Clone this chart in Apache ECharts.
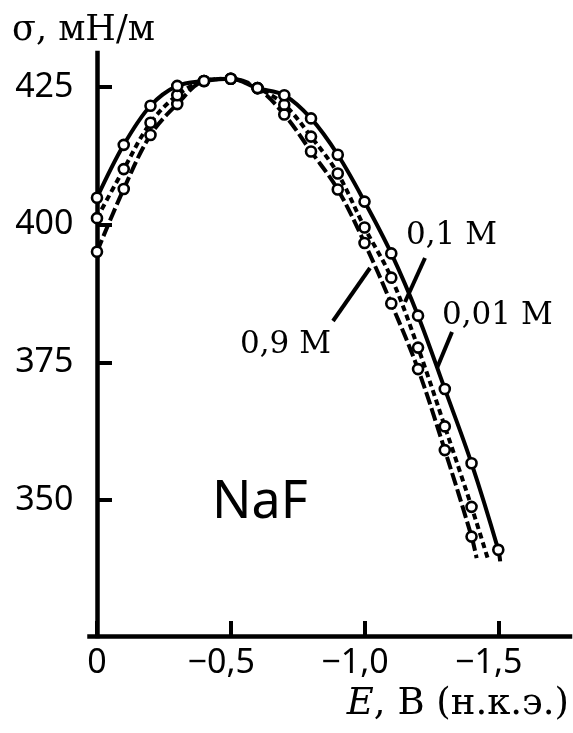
<!DOCTYPE html>
<html>
<head>
<meta charset="utf-8">
<script src="https://cdn.jsdelivr.net/npm/echarts@6/dist/echarts.min.js"></script>
<style>
  html, body { margin: 0; padding: 0; background: #fff; }
  #chart { width: 573px; height: 733px; }
</style>
</head>
<body>
<div id="chart"></div>
<script>
// Electrode potential, V (vs. normal calomel electrode)
const potentials = [0, -0.1, -0.2, -0.3, -0.4, -0.5, -0.6, -0.7, -0.8, -0.9, -1.0, -1.1, -1.2, -1.3, -1.4, -1.5];

// Interfacial tension, mN/m, for three NaF concentrations
const sigma001 = [404.9, 414.5, 421.6, 425.2, 426.1, 426.5, 424.8, 423.5, 419.3, 412.7, 404.2, 394.8, 383.5, 370.2, 356.7, 341.0];
const sigma01  = [401.2, 410.1, 418.5, 423.5, 426.1, 426.5, 424.8, 421.8, 416.0, 409.3, 399.5, 390.4, 377.7, 363.4, 348.8];
const sigma09  = [395.1, 406.5, 416.3, 421.9, 426.1, 426.5, 424.8, 420.0, 413.3, 406.4, 396.7, 385.7, 373.8, 359.1, 343.4];

// Where each fitted curve runs on past its last measured point [E, sigma]
const tail001 = [-1.507, 338.9];
const tail01  = [-1.462, 339.2];
const tail09  = [-1.419, 339.5];

const xTicks = [0, -0.5, -1.0, -1.5];
const yTicks = [350, 375, 400, 425];

const seriesLabels = ['0,01 М', '0,1 М', '0,9 М'];

function buildData(values, tail) {
  const pts = values.map((s, i) => [potentials[i], s]);
  pts.push({ value: tail, symbol: 'none' });
  return pts;
}

function curve(name, values, tail, dash) {
  return {
    name: name,
    type: 'line',
    smooth: 0.35,
    data: buildData(values, tail),
    symbol: 'circle',
    symbolSize: 10,
    itemStyle: { color: '#fff', borderColor: '#000', borderWidth: 2.6 },
    lineStyle: { color: '#000', width: 4, type: dash },
    emphasis: { disabled: true },
    animation: false
  };
}

const chart = echarts.init(document.getElementById('chart'), null, { renderer: 'canvas' });

const sansFont = '"Noto Sans", "DejaVu Sans", sans-serif';
const serifFont = '"DejaVu Serif", "Liberation Serif", serif';

function leader(x1, y1, x2, y2) {
  return { type: 'line', z: 10, shape: { x1: x1, y1: y1, x2: x2, y2: y2 },
           style: { stroke: '#000', lineWidth: 4 } };
}

function note(text, left, top, size) {
  return { type: 'text', z: 10, left: left, top: top,
           style: { text: text, font: size + 'px ' + serifFont, fill: '#000' } };
}

chart.setOption({
  backgroundColor: '#fff',
  animation: false,
  grid: { left: 89.5, right: 3, top: 53, bottom: 97, containLabel: false },
  xAxis: {
    type: 'value',
    inverse: true,
    min: -1.768,
    max: 0.028,
    axisLine: { show: true, lineStyle: { color: '#000', width: 4.5, cap: 'square' } },
    axisTick: { show: true, inside: true, length: 15, lineStyle: { color: '#000', width: 4 }, customValues: xTicks },
    splitLine: { show: false },
    axisLabel: {
      customValues: xTicks,
      margin: 10,
      color: '#000',
      fontSize: 34,
      fontFamily: sansFont,
      formatter: function (v) {
        if (v === 0) return '0';
        return '−' + Math.abs(v).toFixed(1).replace('.', ',') + '{p| }';
      },
      rich: { p: { width: 19, fontSize: 34 } }
    }
  },
  yAxis: {
    type: 'value',
    min: 325.36,
    max: 431.17,
    axisLine: { show: true, lineStyle: { color: '#000', width: 4.5, cap: 'square' } },
    axisTick: { show: true, inside: true, length: 15, lineStyle: { color: '#000', width: 4 }, customValues: yTicks },
    splitLine: { show: false },
    axisLabel: {
      customValues: yTicks,
      margin: 16,
      color: '#000',
      fontSize: 34,
      fontFamily: sansFont
    }
  },
  series: [
    curve(seriesLabels[2], sigma09, tail09, [13, 4]),
    curve(seriesLabels[1], sigma01, tail01, [6, 4]),
    curve(seriesLabels[0], sigma001, tail001, 'solid')
  ],
  graphic: [
    { type: 'text', left: 12, top: 13,
      style: { text: 'σ, мН/м', font: '35px ' + serifFont, fill: '#000' } },
    { type: 'text', left: 212, top: 477,
      style: { text: 'NaF', font: '52px ' + sansFont, fill: '#000' } },
    { type: 'text', right: 4, top: 686,
      style: { text: '{i|E}, В (н.к.э.)', font: '37px ' + serifFont, fill: '#000',
        rich: { i: { font: 'italic 37px ' + serifFont } } } },
    // concentration labels and their leader lines
    note(seriesLabels[1], 406, 220, 31),
    note(seriesLabels[0], 442, 300, 31),
    note(seriesLabels[2], 240, 329, 31),
    leader(425, 258, 405, 302),
    leader(452, 332, 437, 368),
    leader(333, 321, 370, 268)
  ]
});
</script>
</body>
</html>
